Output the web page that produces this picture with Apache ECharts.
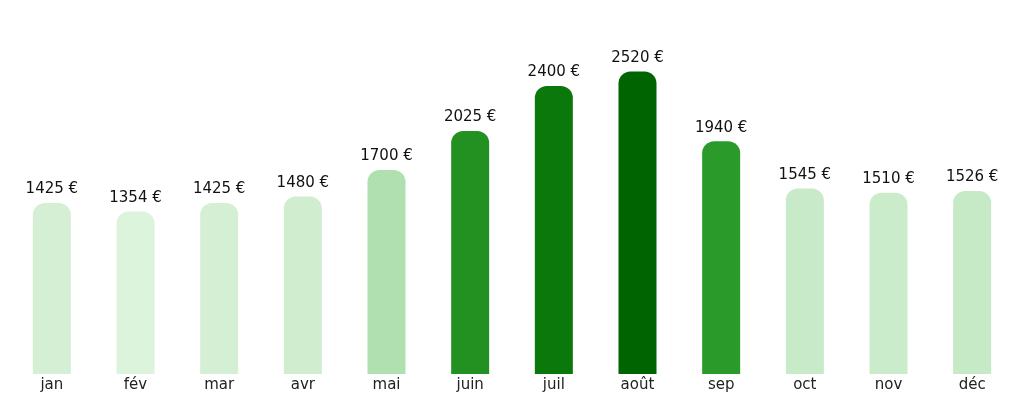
<!DOCTYPE html>
<html>
<head>
<meta charset="utf-8">
<script src="https://cdn.jsdelivr.net/npm/echarts@6/dist/echarts.min.js"></script>
<style>html,body{margin:0;padding:0;background:#fff}#chart{width:1024px;height:404px}</style>
</head>
<body>
<div id="chart"></div>
<script>
var months = ['jan', 'fév', 'mar', 'avr', 'mai', 'juin', 'juil', 'août', 'sep', 'oct', 'nov', 'déc'];
var amounts = [1425, 1354, 1425, 1480, 1700, 2025, 2400, 2520, 1940, 1545, 1510, 1526];
var palette = ['#d4efd4', '#dcf3dc', '#d4efd4', '#d0edd0', '#b0e0b0', '#229122',
  '#0a780a', '#006400', '#2a9a2a', '#c8eac8', '#cbeccb', '#c6e9c6'];

var chart = echarts.init(document.getElementById('chart'));
chart.setOption({
  animation: false,
  grid: { left: 10, right: 10, top: 14, bottom: 30 },
  xAxis: {
    type: 'category',
    data: months,
    axisLine: { show: false },
    axisTick: { show: false },
    axisLabel: { color: '#222', fontSize: 15, margin: 4, fontFamily: 'DejaVu Sans' }
  },
  yAxis: { type: 'value', min: 0, max: 3000, show: false, splitLine: { show: false } },
  series: [{
    type: 'bar',
    data: amounts,
    barWidth: 38,
    itemStyle: {
      color: function (p) { return palette[p.dataIndex]; },
      borderRadius: [12, 12, 0, 0]
    },
    label: {
      show: true,
      position: 'top',
      distance: 6,
      color: '#111',
      fontSize: 15,
      fontFamily: 'DejaVu Sans',
      formatter: function (p) { return p.value + ' €'; }
    }
  }]
});
</script>
</body>
</html>
